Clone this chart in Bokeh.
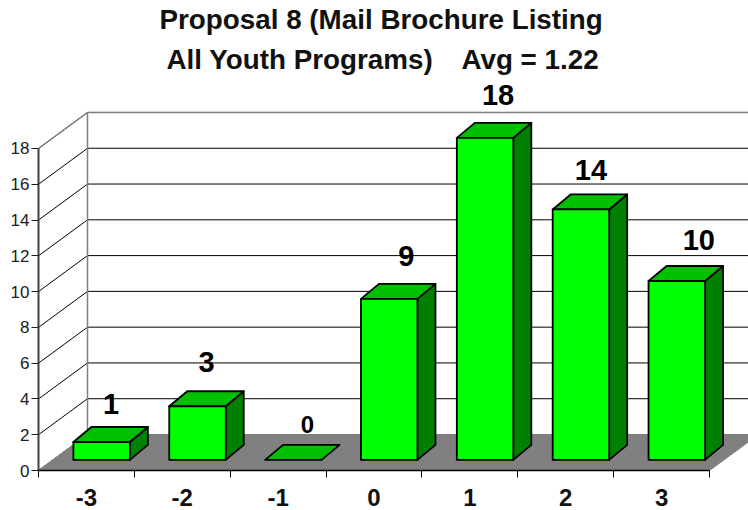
from bokeh.plotting import figure
from bokeh.models import Range1d, FixedTicker, ColumnDataSource, Title
from bokeh.core.properties import value
from bokeh.embed import file_html
from bokeh.resources import INLINE

title_lines = ["Proposal 8 (Mail Brochure Listing", "All Youth Programs)\u00a0\u00a0\u00a0\u2009Avg = 1.22"]
categories = [-3, -2, -1, 0, 1, 2, 3]
category_labels = ["-3", "-2", "-1", "0", "1", "2", "3"]
counts = [1, 3, 0, 9, 18, 14, 10]
y_ticks = [0, 2, 4, 6, 8, 10, 12, 14, 16, 18]

FONT = "Liberation Sans"
PX_X = 95.86   # pixels per category
PX_Y = 17.89   # pixels per count
WALL_DX, WALL_DY = 49 / PX_X, 36 / PX_Y
BAR_W = 56.5 / PX_X
BAR_DX, BAR_DY = 18 / PX_X, 15 / PX_Y
BAR_OFF_X, BAR_OFF_Y = 15.2 / PX_X, 10.6 / PX_Y
X0, X1 = categories[0] - .5, categories[-1] + .5

p = figure(width=748, height=510, output_backend="svg", toolbar_location=None,
           x_range=Range1d(X0, X0 + 710 / PX_X), y_range=Range1d(0, 390 / PX_Y),
           min_border_left=38, min_border_right=0, min_border_top=80, min_border_bottom=40,
           outline_line_color=None, background_fill_color="white")
p.grid.visible = False

# walls
xs, ys = [], []
for t in y_ticks:
    xs.append([X0, X0 + WALL_DX, X1 + 1])
    ys.append([t, t + WALL_DY, t + WALL_DY])
p.multi_line(xs, ys, line_color="black", line_width=1)
p.line([X0, X0 + WALL_DX, X1 + 1], [18, 18 + WALL_DY, 18 + WALL_DY], line_color="#808080", line_width=1.5)
p.line([X0 + WALL_DX] * 2, [WALL_DY, 18 + WALL_DY], line_color="#808080", line_width=1.5)
# floor
p.patch([X0, X1, X1 + WALL_DX, X0 + WALL_DX], [0, 0, WALL_DY, WALL_DY], fill_color="#808080", line_color="#808080")

# bars
fx0 = [c - BAR_W / 2 + BAR_OFF_X for c in categories]
fx1 = [c + BAR_W / 2 + BAR_OFF_X for c in categories]
base = BAR_OFF_Y
top = [base + v for v in counts]
OUT = dict(line_color="black", line_width=1.8, line_join="round")
side = [i for i, v in enumerate(counts) if v > 0]
p.patches([[fx1[i], fx1[i] + BAR_DX, fx1[i] + BAR_DX, fx1[i]] for i in side],
          [[base, base + BAR_DY, top[i] + BAR_DY, top[i]] for i in side], fill_color="#008000", **OUT)
p.patches([[fx0[i], fx1[i], fx1[i] + BAR_DX, fx0[i] + BAR_DX] for i in range(7)],
          [[top[i], top[i], top[i] + BAR_DY, top[i] + BAR_DY] for i in range(7)], fill_color="#00C000", **OUT)
p.patches([[fx0[i], fx1[i], fx1[i], fx0[i]] for i in side],
          [[base, base, top[i], top[i]] for i in side], fill_color="#00FF00", **OUT)

# value labels
nudge_x = [9.5, 9, 14, 17, 13, 10, 22]
nudge_y = [38, 44, 35, 43, 43, 39, 41]
src = ColumnDataSource(dict(x=[c + BAR_OFF_X for c in categories], y=top,
                            t=[str(v) for v in counts], dx=nudge_x, dy=[-d for d in nudge_y],
                            fs=["29px", "29px", "24px", "29px", "29px", "29px", "29px"]))
p.text("x", "y", text="t", source=src, x_offset="dx", y_offset="dy", text_font=value(FONT),
       text_font_style="bold", text_font_size="fs", text_align="center", text_baseline="middle",
       text_color="black")

# axes
ya = p.yaxis[0]
ya.ticker = FixedTicker(ticks=y_ticks)
ya.bounds = (0, 18)
ya.axis_line_color = "#404040"
ya.axis_line_width = 2
ya.major_tick_line_color = "#202020"
ya.major_tick_in = 0
ya.major_tick_out = 7
ya.minor_tick_line_color = None
ya.major_label_text_font = FONT
ya.major_label_text_font_size = "17px"
ya.major_label_text_color = "#202020"
ya.major_label_standoff = 2

xa = p.xaxis[0]
xa.ticker = FixedTicker(ticks=categories, minor_ticks=[c - .5 for c in categories] + [X1])
xa.major_label_overrides = dict(zip(categories, category_labels))
xa.bounds = (X0, X1)
xa.axis_line_color = "black"
xa.axis_line_width = 1.5
xa.major_tick_line_color = None
xa.major_tick_in = 0
xa.major_tick_out = 0
xa.minor_tick_line_color = "black"
xa.minor_tick_in = 0
xa.minor_tick_out = 7
xa.major_label_text_font = FONT
xa.major_label_text_font_style = "bold"
xa.major_label_text_font_size = "24px"
xa.major_label_text_color = "#111111"
xa.major_label_standoff = 11

for text, off, st in [(title_lines[1], 128, 11), (title_lines[0], 121, 3)]:
    p.add_layout(Title(text=text, text_font=FONT, text_font_style="bold", text_font_size="27.8px",
                       text_color="#111111", align="left", offset=off, standoff=st), "above")

open("out.html", "w").write(file_html(p, INLINE))
